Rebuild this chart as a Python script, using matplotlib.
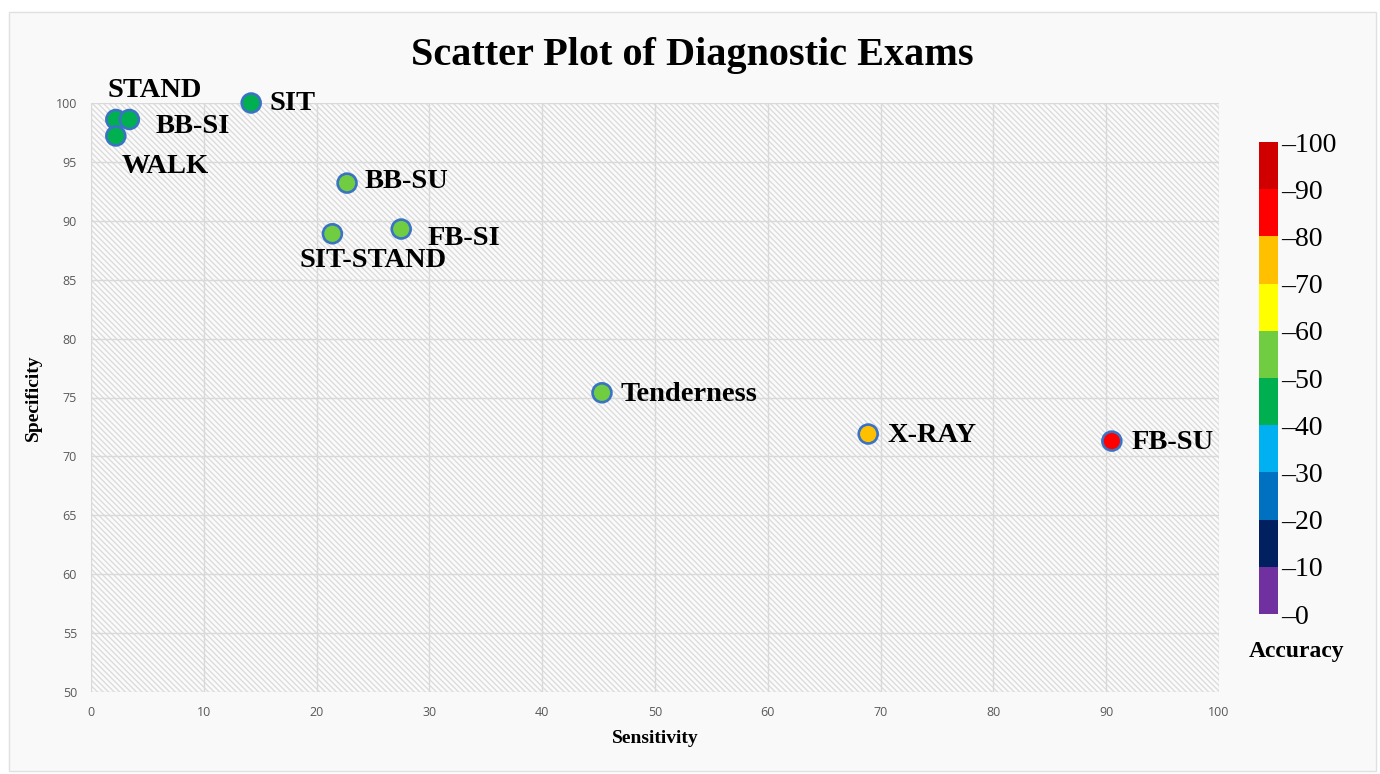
import matplotlib; matplotlib.use("Agg")
import matplotlib.pyplot as plt
from matplotlib.patches import Rectangle
from matplotlib.colors import ListedColormap, BoundaryNorm
import numpy as np

exams       = ["STAND", "BB-SI", "WALK", "SIT", "BB-SU", "SIT-STAND",
               "FB-SI", "Tenderness", "X-RAY", "FB-SU"]
sensitivity = [2.2, 3.4, 2.2, 14.2, 22.7, 21.4, 27.5, 45.3, 68.9, 90.5]
specificity = [98.6, 98.6, 97.2, 100.0, 93.2, 88.9, 89.3, 75.4, 71.9, 71.3]
accuracy    = [48, 49, 47, 49, 56, 53, 57, 58, 73, 84]

# label offsets in pixels (dx, dy) and alignment
label_pos = {
    "STAND":      (-8, 29, "left"),
    "BB-SI":      (26, -7, "left"),
    "WALK":       (6, -31, "left"),
    "SIT":        (18, -1, "left"),
    "BB-SU":      (18, 2, "left"),
    "SIT-STAND":  (41, -27, "center"),
    "FB-SI":      (26, -9, "left"),
    "Tenderness": (19, -2, "left"),
    "X-RAY":      (19, -1, "left"),
    "FB-SU":      (20, -1, "left"),
}

acc_bounds = np.arange(0, 101, 10)
acc_colors = ["#7030a0", "#002060", "#0070c0", "#00b0f0", "#00b050",
              "#70cc40", "#ffff00", "#ffc000", "#ff0000", "#d00000"]
cmap = ListedColormap(acc_colors)
norm = BoundaryNorm(acc_bounds, cmap.N)

SERIF = "Liberation Serif"
GRAYTXT = "#595959"

W, H = 1380, 774
fig = plt.figure(figsize=(W / 100, H / 100), dpi=100, facecolor="white")
fig.add_artist(Rectangle((9 / W, 1 - 771 / H), 1367 / W, 759 / H,
                         transform=fig.transFigure, facecolor="#f9f9f9",
                         edgecolor="#e0e0e0", lw=1, zorder=-10))

ax = fig.add_axes([91 / W, 1 - 692 / H, 1128 / W, 589 / H])
ax.set_facecolor("#fbfbfb")
ax.add_patch(Rectangle((0, 0), 1, 1, transform=ax.transAxes, fill=False,
                       hatch="\\\\\\\\\\\\", edgecolor="#dcdcdc", lw=0, zorder=0))
plt.rcParams["hatch.linewidth"] = 0.6

ax.set_xlim(0, 100); ax.set_ylim(50, 100)
ax.set_xticks(np.arange(0, 101, 10)); ax.set_yticks(np.arange(50, 101, 5))
ax.grid(True, color="#d9d9d9", lw=1, zorder=1)
ax.set_axisbelow(True)
for s in ax.spines.values():
    s.set_visible(False)
ax.tick_params(length=0, labelsize=9, labelcolor=GRAYTXT, pad=10)
for lab in ax.get_xticklabels() + ax.get_yticklabels():
    lab.set_family("Open Sans")

ax.scatter(sensitivity, specificity, c=accuracy, cmap=cmap, norm=norm,
           s=185, edgecolors="#3a73c4", linewidths=1.9, zorder=5, clip_on=False)

for name, x, y in zip(exams, sensitivity, specificity):
    dx, dy, ha = label_pos[name]
    ax.annotate(name, (x, y), xytext=(dx, dy), textcoords="offset pixels",
                ha=ha, va="center", fontsize=20.5, fontweight="bold",
                family=SERIF, color="black", zorder=6, annotation_clip=False)

ax.set_xlabel("Sensitivity", fontsize=14, fontweight="bold", family=SERIF, labelpad=8)
ax.set_ylabel("Specificity", fontsize=14, fontweight="bold", family=SERIF, labelpad=10)

fig.text(692 / W, 1 - 55 / H, "Scatter Plot of Diagnostic Exams", ha="center",
         va="center", fontsize=29, fontweight="bold", family=SERIF)

# colour bar
cax = fig.add_axes([1259 / W, 1 - 614 / H, 19 / W, 472 / H])
cb = fig.colorbar(plt.cm.ScalarMappable(norm=norm, cmap=cmap), cax=cax,
                  ticks=acc_bounds)
cb.outline.set_visible(False)
cb.ax.tick_params(length=0, pad=2)
cb.ax.set_yticklabels(["\u2013" + str(v) for v in acc_bounds],
                      fontsize=20, family=SERIF)
fig.text(1297 / W, 1 - 651 / H, "Accuracy", ha="center", va="center",
         fontsize=17, fontweight="bold", family=SERIF)

fig.savefig("out.png", dpi=100, facecolor="white")
